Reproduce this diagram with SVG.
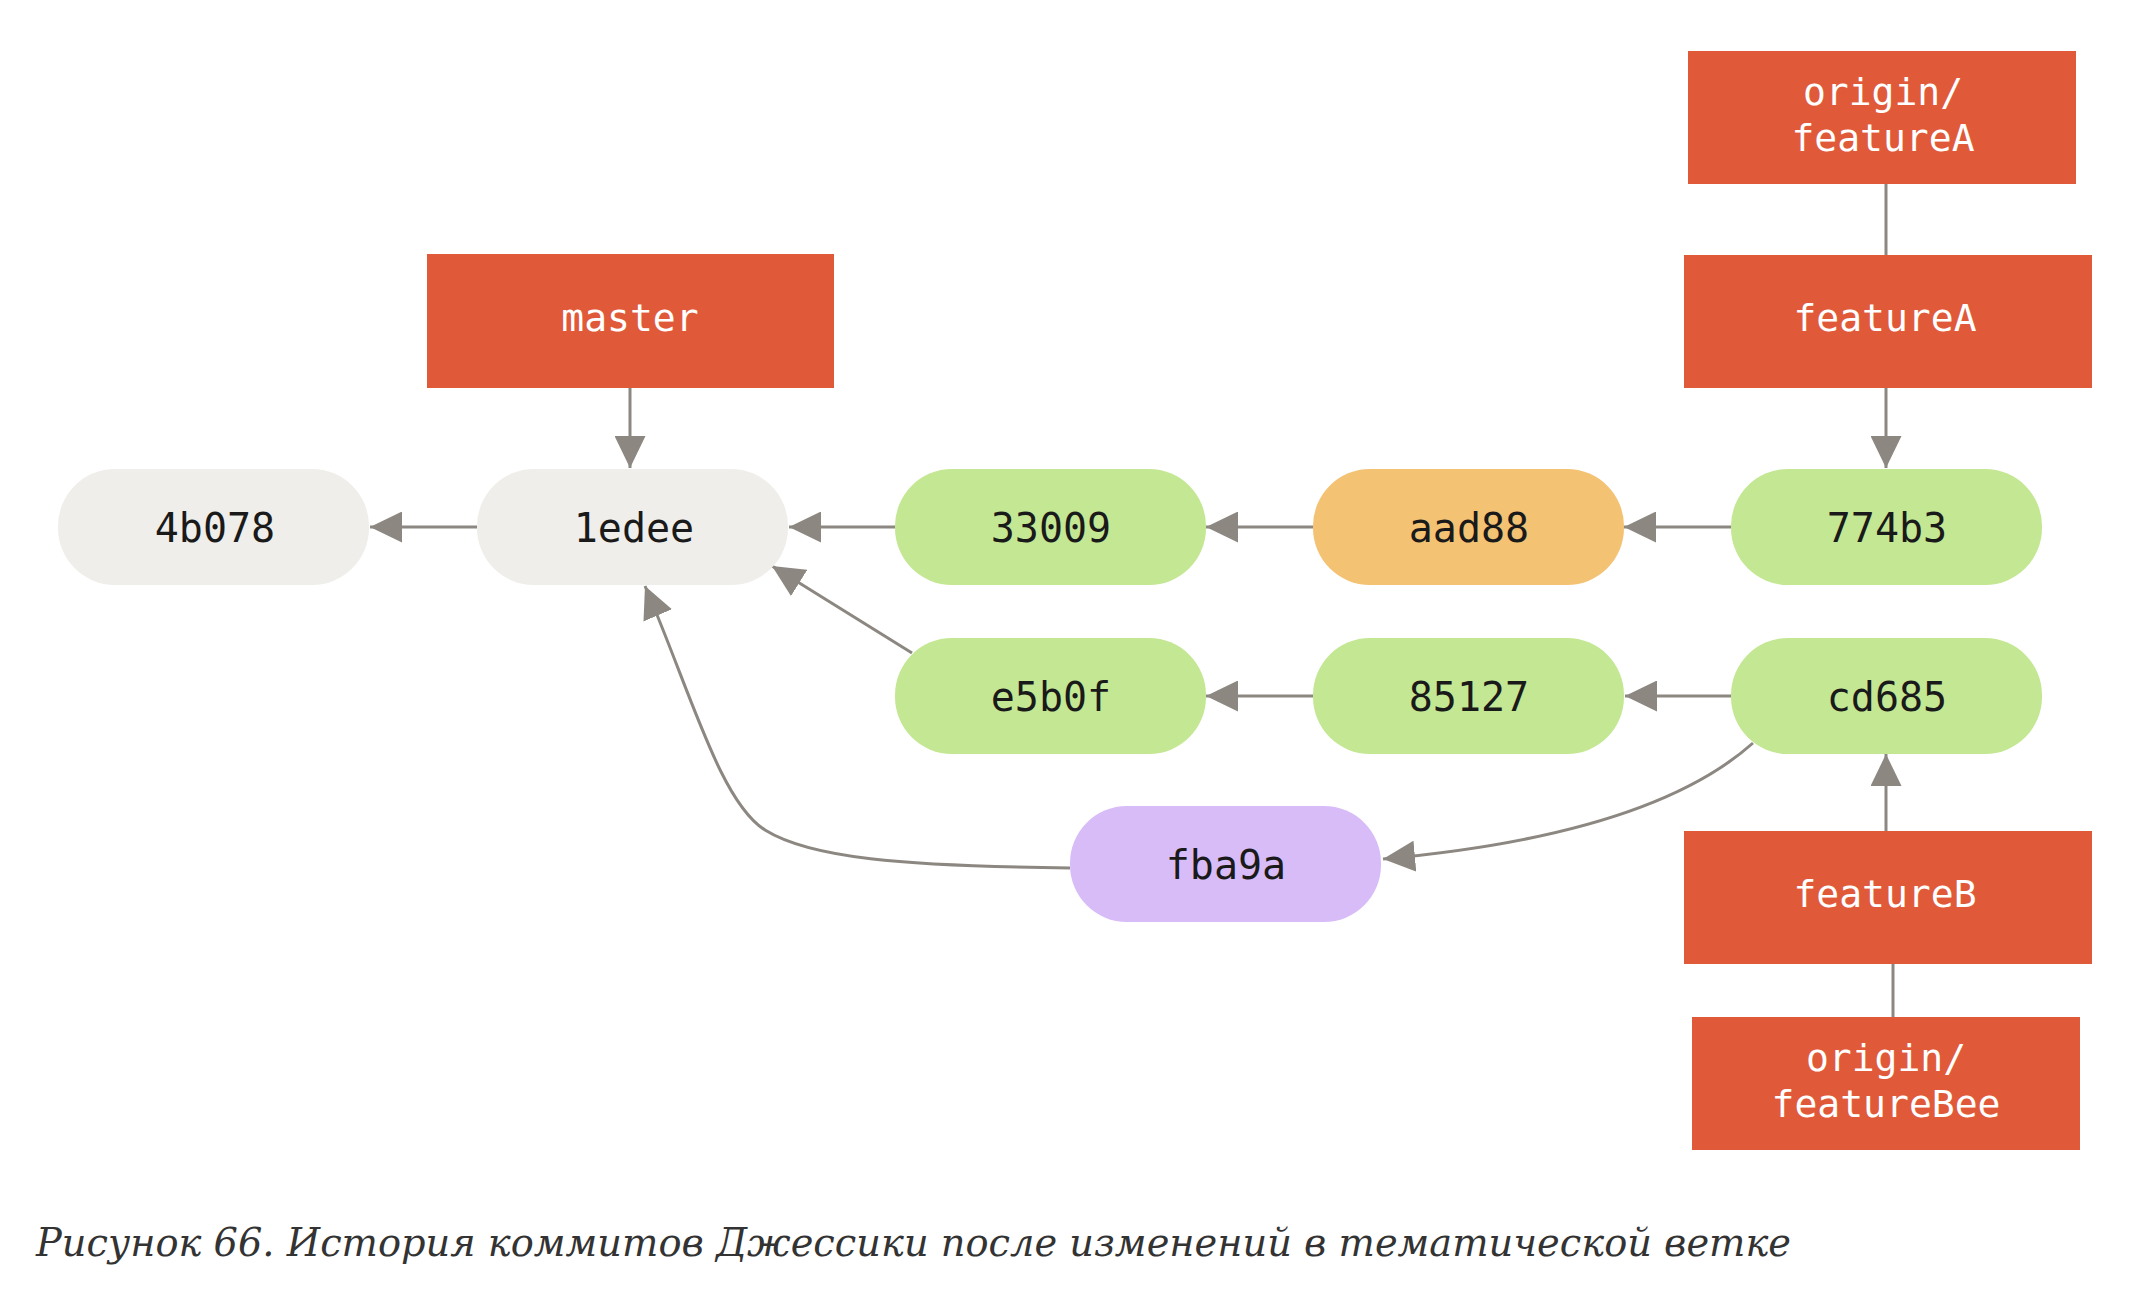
<svg xmlns="http://www.w3.org/2000/svg" width="2146" height="1304" viewBox="0 0 2146 1304">
<defs>
<style>
.ref{fill:#E05A3A}
.reft{fill:#FFFFFF;font-family:"DejaVu Sans Mono","Liberation Mono",monospace;font-size:38px;text-anchor:middle}
.ct{fill:#1A1A1A;font-family:"DejaVu Sans Mono","Liberation Mono",monospace;font-size:40px;text-anchor:middle}
.gray{fill:#EFEEEA}
.green{fill:#C4E793}
.orange{fill:#F3C273}
.purple{fill:#D8BCF8}
.edge{fill:none;stroke:#8C8881;stroke-width:3}
.arr{marker-end:url(#ah)}
.cap{fill:#333333;font-family:"DejaVu Serif","Liberation Serif",serif;font-style:italic;font-size:40px}
</style>
<marker id="ah" markerUnits="userSpaceOnUse" markerWidth="32" markerHeight="31" viewBox="0 0 32 31" refX="32" refY="15.5" orient="auto">
<path d="M0,0 L32,15.5 L0,31 z" fill="#8C8881"/>
</marker>
</defs>
<rect width="2146" height="1304" fill="#FFFFFF"/>

<g id="connectors">
<path class="edge arr" d="M477,527 L370,527"/>
<path class="edge arr" d="M895,527 L789,527"/>
<path class="edge arr" d="M1313,527 L1206,527"/>
<path class="edge arr" d="M1731,527 L1624,527"/>
<path class="edge arr" d="M1313,696 L1206,696"/>
<path class="edge arr" d="M1731,696 L1625,696"/>
<path class="edge arr" d="M912,653 L772,566"/>
<path class="edge arr" d="M630,388 L630,468"/>
<path class="edge arr" d="M1886,388 L1886,468"/>
<path class="edge" d="M1886,184 L1886,255"/>
<path class="edge arr" d="M1886,831 L1886,754"/>
<path class="edge" d="M1893,964 L1893,1017"/>
<path class="edge arr" d="M1753,743 Q1650,835 1383,859"/>
<path class="edge arr" d="M1070,868 C900,866 810,858 765,830 C720,802 690,690 645,586"/>
</g>

<g id="node-master"><rect class="ref" x="427" y="254" width="407" height="134"/><text class="reft" x="630" y="331">master</text></g>
<g id="node-origin-featureA"><rect class="ref" x="1688" y="51" width="388" height="133"/><text class="reft" x="1883" y="105">origin/</text><text class="reft" x="1883" y="151">featureA</text></g>
<g id="node-featureA"><rect class="ref" x="1684" y="255" width="408" height="133"/><text class="reft" x="1885" y="331">featureA</text></g>
<g id="node-featureB"><rect class="ref" x="1684" y="831" width="408" height="133"/><text class="reft" x="1885" y="907">featureB</text></g>
<g id="node-origin-featureBee"><rect class="ref" x="1692" y="1017" width="388" height="133"/><text class="reft" x="1886" y="1071">origin/</text><text class="reft" x="1886" y="1117">featureBee</text></g>

<g id="node-4b078"><rect class="gray" x="58" y="469" width="311" height="116" rx="57" ry="57"/><text class="ct" x="215" y="542">4b078</text></g>
<g id="node-1edee"><rect class="gray" x="477" y="469" width="311" height="116" rx="57" ry="57"/><text class="ct" x="634" y="542">1edee</text></g>
<g id="node-33009"><rect class="green" x="895" y="469" width="311" height="116" rx="57" ry="57"/><text class="ct" x="1051" y="542">33009</text></g>
<g id="node-aad88"><rect class="orange" x="1313" y="469" width="311" height="116" rx="57" ry="57"/><text class="ct" x="1469" y="542">aad88</text></g>
<g id="node-774b3"><rect class="green" x="1731" y="469" width="311" height="116" rx="57" ry="57"/><text class="ct" x="1887" y="542">774b3</text></g>
<g id="node-e5b0f"><rect class="green" x="895" y="638" width="311" height="116" rx="57" ry="57"/><text class="ct" x="1051" y="711">e5b0f</text></g>
<g id="node-85127"><rect class="green" x="1313" y="638" width="311" height="116" rx="57" ry="57"/><text class="ct" x="1469" y="711">85127</text></g>
<g id="node-cd685"><rect class="green" x="1731" y="638" width="311" height="116" rx="57" ry="57"/><text class="ct" x="1887" y="711">cd685</text></g>
<g id="node-fba9a"><rect class="purple" x="1070" y="806" width="311" height="116" rx="57" ry="57"/><text class="ct" x="1226" y="879">fba9a</text></g>

<text class="cap" x="36" y="1256" textLength="1755" lengthAdjust="spacingAndGlyphs">Рисунок 66. История коммитов Джессики после изменений в тематической ветке</text>
</svg>
